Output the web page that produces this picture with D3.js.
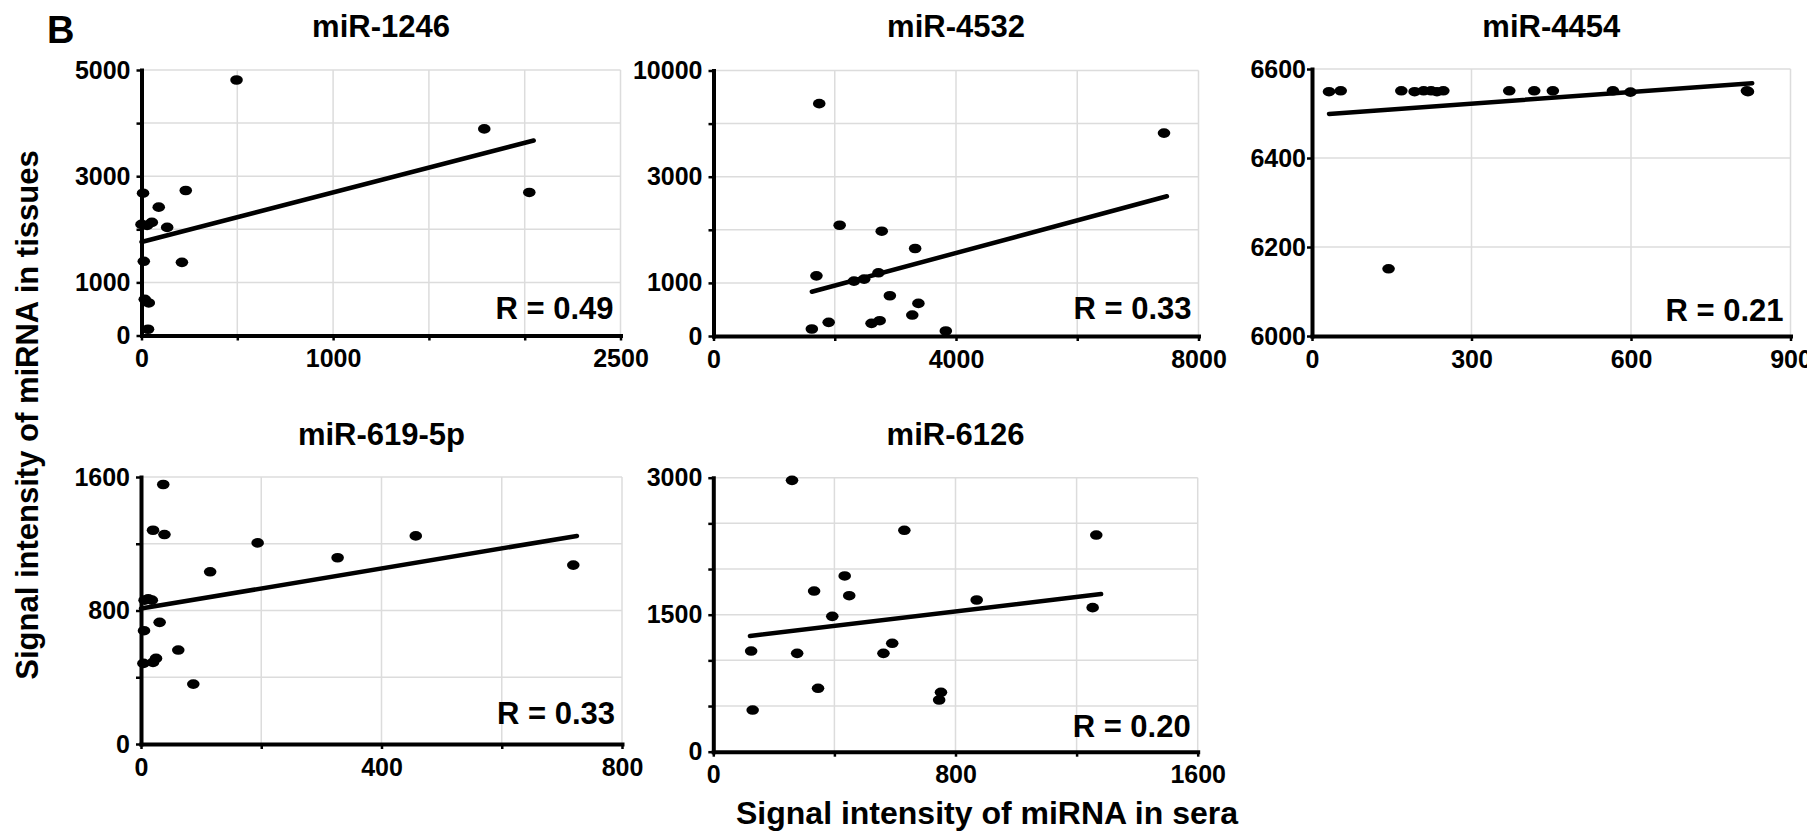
<!DOCTYPE html>
<html>
<head>
<meta charset="utf-8">
<script src="https://cdn.jsdelivr.net/npm/d3@7"></script>
<style>
  html, body { margin: 0; padding: 0; background: #ffffff; }
  svg { display: block; }
  text { font-family: "Liberation Sans", Arial, Helvetica, sans-serif; font-weight: bold; fill: #000; }
</style>
</head>
<body>
<svg id="fig" width="1807" height="832"></svg>
<script>
// ---- miRNA names (panel titles) ----
const mirnas = ["miR-1246", "miR-4532", "miR-4454", "miR-619-5p", "miR-6126"];
const rValues = ["0.49", "0.33", "0.21", "0.33", "0.20"];

// ---- serum (x) and tissue (y) signal intensities ----
const sera1246 = [496, 1789, 2024, 8, 231, 90, 0, 29, 54, 134, 12, 211, 17, 38, 34];
const tissue1246 = [4812, 3891, 2694, 2680, 2731, 2417, 2092, 2073, 2130, 2036, 1397, 1378, 682, 613, 118];

const sera4532 = [1744, 7431, 2081, 2775, 3326, 1698, 2317, 2485, 2721, 2909, 3380, 3279, 1900, 2607, 2741, 1622, 3832];
const tissue4532 = [7815, 5874, 2086, 1974, 1648, 1133, 1034, 1071, 1190, 758, 614, 395, 257, 238, 288, 132, 94];

const sera4454 = [32, 54, 168, 193, 210, 224, 235, 247, 371, 418, 453, 566, 599, 818, 820, 144];
const tissue4454 = [6549, 6551, 6551, 6549, 6551, 6551, 6549, 6551, 6551, 6551, 6551, 6551, 6548, 6551, 6549, 6151];

const sera619 = [37, 20, 39, 194, 457, 327, 719, 115, 6, 18, 12, 31, 5, 62, 25, 20, 4, 87];
const tissue619 = [1555, 1281, 1255, 1205, 1247, 1116, 1072, 1032, 862, 862, 870, 729, 679, 563, 513, 489, 483, 359];

const sera6126 = [260, 631, 1265, 434, 333, 449, 870, 1253, 393, 591, 125, 277, 562, 346, 752, 746, 130];
const tissue6126 = [2971, 2424, 2372, 1924, 1759, 1708, 1661, 1577, 1482, 1187, 1102, 1077, 1077, 694, 650, 566, 456];

// ---- linear trend lines: [x start, y start, x end, y end] ----
const trend1246 = [0, 1761, 2047, 3672];
const trend4532 = [1622, 833, 7479, 2632];
const trend4454 = [32, 6499, 828, 6568];
const trend619 = [0, 812, 725, 1247];
const trend6126 = [121, 1267, 1281, 1727];

// ---- axis ticks (gridlines) and the ticks that carry a label ----
const xTicks1246 = [0, 500, 1000, 1500, 2000, 2500], xLabels1246 = [0, 1000, 2500];
const yTicks1246 = [0, 1000, 2000, 3000, 4000, 5000], yLabels1246 = [0, 1000, 3000, 5000];
const xTicks4532 = [0, 2000, 4000, 6000, 8000], xLabels4532 = [0, 4000, 8000];
const yTicks4532 = [0, 1000, 2000, 3000, 6500, 10000], yLabels4532 = [0, 1000, 3000, 10000];
const xTicks4454 = [0, 300, 600, 900], xLabels4454 = [0, 300, 600, 900];
const yTicks4454 = [6000, 6200, 6400, 6600], yLabels4454 = [6000, 6200, 6400, 6600];
const xTicks619 = [0, 200, 400, 600, 800], xLabels619 = [0, 400, 800];
const yTicks619 = [0, 400, 800, 1200, 1600], yLabels619 = [0, 800, 1600];
const xTicks6126 = [0, 400, 800, 1200, 1600], xLabels6126 = [0, 800, 1600];
const yTicks6126 = [0, 500, 1000, 1500, 2000, 2500, 3000], yLabels6126 = [0, 1500, 3000];

// ---- axis titles ----
const yTitle = "Signal intensity of miRNA in tissues";
const xTitle = "Signal intensity of miRNA in sera";
const panelLetter = "B";

// panel frames in page pixels
const panels = [
  { name: mirnas[0], r: rValues[0], xs: sera1246, ys: tissue1246, fit: trend1246,
    xT: xTicks1246, xL: xLabels1246, yT: yTicks1246, yL: yLabels1246,
    x0: 141.5, x1: 620.5, y0: 70, y1: 335.5, titleY: 37, ylGap: 6, rDy: 17 },
  { name: mirnas[1], r: rValues[1], xs: sera4532, ys: tissue4532, fit: trend4532,
    xT: xTicks4532, xL: xLabels4532, yT: yTicks4532, yL: yLabels4532,
    x0: 713.5, x1: 1198.5, y0: 70.5, y1: 336, titleY: 37, ylGap: 6, rDy: 17.5, broken: true },
  { name: mirnas[2], r: rValues[2], xs: sera4454, ys: tissue4454, fit: trend4454,
    xT: xTicks4454, xL: xLabels4454, yT: yTicks4454, yL: yLabels4454,
    x0: 1312, x1: 1790.5, y0: 69, y1: 336, titleY: 37, ylGap: 1, rDy: 15.5 },
  { name: mirnas[3], r: rValues[3], xs: sera619, ys: tissue619, fit: trend619,
    xT: xTicks619, xL: xLabels619, yT: yTicks619, yL: yLabels619,
    x0: 141, x1: 622, y0: 477, y1: 744, titleY: 445, ylGap: 6, rDy: 20 },
  { name: mirnas[4], r: rValues[4], xs: sera6126, ys: tissue6126, fit: trend6126,
    xT: xTicks6126, xL: xLabels6126, yT: yTicks6126, yL: yLabels6126,
    x0: 713.3, x1: 1197.7, y0: 477.7, y1: 751.7, titleY: 445, ylGap: 6, rDy: 15 }
];

const svg = d3.select("#fig");

panels.forEach(p => {
  const g = svg.append("g");
  const x = d3.scaleLinear()
    .domain([p.xT[0], p.xT[p.xT.length - 1]])
    .range([p.x0, p.x1]);
  let y;
  if (p.broken) {
    // lower part linear up to 3000, compressed segment above it
    const step = (p.y1 - p.y0) / 5;
    y = d3.scaleLinear().domain([0, 3000, 10000]).range([p.y1, p.y1 - 3 * step, p.y0]);
  } else {
    y = d3.scaleLinear()
      .domain([p.yT[0], p.yT[p.yT.length - 1]])
      .range([p.y1, p.y0]);
  }

  // light gridlines
  const grid = g.append("g").attr("stroke", "#dcdcdc").attr("stroke-width", 1.5);
  grid.selectAll("line.h").data(p.yT).join("line")
    .attr("x1", p.x0).attr("x2", p.x1)
    .attr("y1", d => y(d)).attr("y2", d => y(d));
  grid.selectAll("line.v").data(p.xT).join("line")
    .attr("y1", p.y0).attr("y2", p.y1)
    .attr("x1", d => x(d)).attr("x2", d => x(d));

  // axes
  const xAxis = d3.axisBottom(x).tickValues(p.xT)
    .tickFormat(d => p.xL.includes(d) ? String(d) : "")
    .tickSize(5).tickSizeOuter(0).tickPadding(9);
  const yAxis = d3.axisLeft(y).tickValues(p.yT)
    .tickFormat(d => p.yL.includes(d) ? String(d) : "")
    .tickSize(5).tickSizeOuter(0).tickPadding(p.ylGap);

  const gx = g.append("g").attr("transform", `translate(0,${p.y1})`).call(xAxis);
  const gy = g.append("g").attr("transform", `translate(${p.x0},0)`).call(yAxis);
  [gx, gy].forEach(a => {
    a.attr("font-family", null).attr("font-size", null);
    a.select(".domain").attr("stroke", "#000").attr("stroke-width", 4).attr("stroke-linecap", "square");
    a.selectAll(".tick line").attr("stroke", "#000").attr("stroke-width", 2.5);
    a.selectAll(".tick text").style("font-size", "25px").attr("fill", "#000");
  });

  // data points
  g.append("g").selectAll("ellipse")
    .data(p.xs.map((v, i) => [v, p.ys[i]]))
    .join("ellipse")
    .attr("cx", d => x(d[0])).attr("cy", d => y(d[1]))
    .attr("rx", 6.3).attr("ry", 4.8)
    .attr("fill", "#000");

  // trend line
  g.append("line")
    .attr("x1", x(p.fit[0])).attr("y1", y(p.fit[1]))
    .attr("x2", x(p.fit[2])).attr("y2", y(p.fit[3]))
    .attr("stroke", "#000").attr("stroke-width", 4.5).attr("stroke-linecap", "round");

  // title
  g.append("text")
    .attr("x", (p.x0 + p.x1) / 2).attr("y", p.titleY)
    .attr("text-anchor", "middle").style("font-size", "31px")
    .text(p.name);

  // correlation coefficient
  g.append("text")
    .attr("x", p.x1 - 7).attr("y", p.y1 - p.rDy)
    .attr("text-anchor", "end").style("font-size", "31px")
    .text("R = " + p.r);
});

// panel letter
svg.append("text").attr("x", 47).attr("y", 43)
  .style("font-size", "38px").text(panelLetter);

// shared axis titles
svg.append("text")
  .attr("transform", "translate(38,415) rotate(-90)")
  .attr("text-anchor", "middle").style("font-size", "31px")
  .text(yTitle);

svg.append("text")
  .attr("x", 736).attr("y", 824)
  .attr("text-anchor", "start").style("font-size", "32px")
  .text(xTitle);
</script>
</body>
</html>
